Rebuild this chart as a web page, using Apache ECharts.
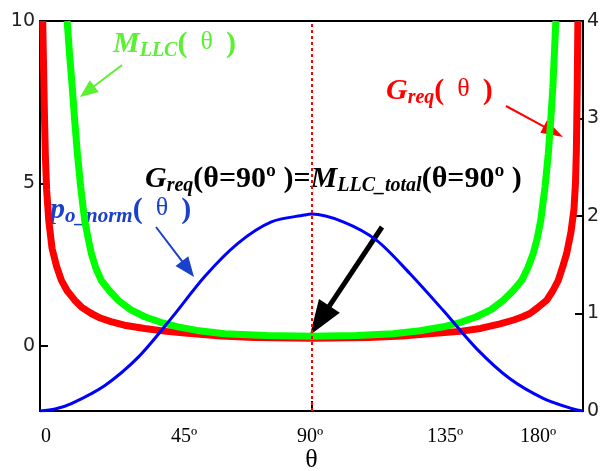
<!DOCTYPE html>
<html><head><meta charset="utf-8">
<script src="https://cdn.jsdelivr.net/npm/echarts@6/dist/echarts.min.js"></script>
<style>html,body{margin:0;padding:0;background:#fff}#c{width:606px;height:471px}</style>
</head><body><div id="c"></div>
<script>
// ---- data (theta in degrees) ----
const redTheta  = [0.9, 1.2, 1.5, 1.8, 2.2, 2.9, 4.0, 5.5, 7.1, 9, 11.5, 14, 17, 20, 23.5, 28, 34.7, 42, 49, 60, 71, 90, 109, 120, 131, 139.2, 146, 152.5, 157, 160, 162.4, 165, 168, 170, 171.8, 173.3, 174.6, 176, 177, 177.5, 177.8, 178.1, 178.3];
const redValue  = [10, 8.5, 7, 5.8, 4.8, 3.87, 3.0, 2.45, 2.02, 1.7, 1.41, 1.18, 1.0, 0.86, 0.75, 0.64, 0.54, 0.45, 0.39, 0.31, 0.26, 0.24, 0.26, 0.31, 0.39, 0.45, 0.54, 0.68, 0.8, 0.9, 1.0, 1.18, 1.41, 1.7, 2.02, 2.45, 2.85, 3.5, 4.2, 5.0, 6.0, 8.0, 10];
const greenTheta = [9.0, 9.8, 10.7, 11.5, 12.4, 13.5, 14.8, 16, 17.0, 18.5, 20.3, 23, 25.9, 30, 34.7, 40, 45.7, 52, 61.2, 75, 90, 105, 117, 126, 133.7, 139.5, 144.7, 149.5, 153.6, 156.8, 159.7, 161.7, 163.5, 164.8, 166, 167.4, 168.5, 169.3, 170, 170.5, 171];
const greenValue = [10, 8.98, 7.95, 6.94, 5.92, 4.89, 3.87, 3.3, 2.85, 2.4, 2.02, 1.7, 1.41, 1.12, 0.90, 0.73, 0.59, 0.48, 0.38, 0.32, 0.30, 0.32, 0.38, 0.47, 0.59, 0.73, 0.90, 1.12, 1.41, 1.7, 2.02, 2.4, 2.85, 3.3, 3.87, 4.89, 5.92, 6.94, 7.95, 8.98, 10];
const blueTheta = [0, 5, 10.4, 21.4, 32.5, 43.5, 54.6, 65.6, 76.7, 87.7, 90, 100.5, 111.6, 122.6, 133.7, 144.7, 155.8, 166.8, 176.8, 180];
const blueValue = [0, 0.02, 0.076, 0.26, 0.55, 0.95, 1.38, 1.72, 1.94, 2.01, 2.02, 1.94, 1.75, 1.41, 1.03, 0.64, 0.33, 0.13, 0.02, 0];
const markerTheta = 90;
const xTickLabels = ['0', '45º', '90º', '135º', '180º'];
const leftTicks = [0, 5, 10];

// ---- layout (pixels) ----
const xTickLabelPos = [46, 184, 310, 445, 538];
const zip = (a, b) => a.map((v, i) => [v, b[i]]);

const serif = '"Liberation Serif", "Times New Roman", serif';
function arrow(x1, y1, x2, y2, color, w, hl, hw) {
  const dx = x2 - x1, dy = y2 - y1, L = Math.hypot(dx, dy);
  const ux = dx / L, uy = dy / L, px = -uy, py = ux;
  const bx = x2 - ux * hl, by = y2 - uy * hl;
  return [
    { type: 'line', silent: true, shape: { x1, y1, x2: bx + ux * 2, y2: by + uy * 2 }, style: { stroke: color, lineWidth: w } },
    { type: 'polygon', silent: true, shape: { points: [[x2, y2], [bx + px * hw / 2, by + py * hw / 2], [bx - px * hw / 2, by - py * hw / 2]] }, style: { fill: color } }
  ];
}
function richStyle(color, big, small) {
  return {
    m: { fontFamily: serif, fontSize: big, fontWeight: 'bold', fontStyle: 'italic', fill: color, color: color, lineHeight: 34 },
    s: { fontFamily: serif, fontSize: small, fontWeight: 'bold', fontStyle: 'italic', fill: color, color: color, lineHeight: 34, verticalAlign: 'bottom' },
    p: { fontFamily: serif, fontSize: big, fontWeight: 'bold', fill: color, color: color, lineHeight: 34 },
    t: { fontFamily: serif, fontSize: 26, fill: color, color: color, lineHeight: 34, padding: [0, 0, 3, 0] }
  };
}

const graphics = [];
xTickLabels.forEach((t, i) => graphics.push({ type: 'text', silent: true, style: { x: xTickLabelPos[i], y: 437, text: t, fontFamily: serif, fontSize: 20, fill: '#000', align: 'center', verticalAlign: 'middle' } }));
graphics.push({ type: 'text', silent: true, style: { x: 113, y: 44, text: '{m|M}{s|LLC}{p|(}{t|  θ  }{p|)}', rich: richStyle('#5cf032', 30, 20), verticalAlign: 'middle' } });
graphics.push({ type: 'text', silent: true, style: { x: 386, y: 91, text: '{m|G}{s|req}{p|(}{t|  θ  }{p|)}', rich: richStyle('#ff0000', 30, 20), verticalAlign: 'middle' } });
graphics.push({ type: 'text', silent: true, style: { x: 50, y: 210, text: '{m|p}{s|o_norm}{p|(}{t|  θ  }{p|)}', rich: richStyle('#1a40cc', 30, 21), verticalAlign: 'middle' } });
const blk = richStyle('#000', 30, 20);
graphics.push({ type: 'text', silent: true, style: { x: 145, y: 179, text: '{m|G}{s|req}{p|(θ=90º )=}{m|M}{s|LLC_total}{p|(θ=90º )}', rich: blk, verticalAlign: 'middle' } });
graphics.push(...arrow(122, 65, 80, 97, '#5cf032', 2, 18, 15));
graphics.push(...arrow(506, 106, 563, 137, '#ff0000', 2, 22, 14));
graphics.push(...arrow(156, 227, 194, 277, '#1a40cc', 2, 20, 16));
graphics.push(...arrow(382, 227, 310, 335, '#000', 5, 35, 25));

const chart = echarts.init(document.getElementById('c'), null, { renderer: 'canvas' });
chart.setOption({
  animation: false,
  backgroundColor: '#fff',
  grid: { left: 40, right: 23, top: 21, bottom: 60, containLabel: false, outerBoundsMode: 'none', show: true, borderColor: '#000', borderWidth: 2, backgroundColor: 'transparent' },
  xAxis: {
    type: 'value', min: 0, max: 180, interval: 90,
    name: 'θ', nameLocation: 'middle', nameGap: 36,
    nameTextStyle: { fontFamily: serif, fontSize: 26, color: '#000' },
    axisLine: { show: true, onZero: false, lineStyle: { color: '#000', width: 2 } },
    axisTick: { show: true, inside: true, length: 10, customValues: [90], lineStyle: { color: '#000', width: 2 } },
    axisLabel: { show: false },
    splitLine: { show: false }
  },
  yAxis: [
    {
      type: 'value', min: -2, max: 10, position: 'left',
      axisLine: { show: true, onZero: false, lineStyle: { color: '#000', width: 2 } },
      axisTick: { show: true, inside: true, length: 8, customValues: leftTicks, lineStyle: { color: '#000', width: 2 } },
      axisLabel: { show: true, customValues: leftTicks, margin: 5, fontFamily: '"DejaVu Sans", sans-serif', fontSize: 19, color: '#222', padding: [12, 0, 0, 0] },
      splitLine: { show: false }
    },
    {
      type: 'value', min: 0, max: 4, interval: 1, position: 'right',
      axisLine: { show: true, onZero: false, lineStyle: { color: '#000', width: 2 } },
      axisTick: { show: true, inside: true, length: 8, lineStyle: { color: '#000', width: 2 } },
      axisLabel: { show: true, margin: 4, fontFamily: '"DejaVu Sans", sans-serif', fontSize: 19, color: '#222', padding: [10, 0, 0, 0] },
      splitLine: { show: false }
    }
  ],
  series: [
    { type: 'line', name: 'Greq', yAxisIndex: 0, data: zip(redTheta, redValue), showSymbol: false, smooth: false, clip: true, lineStyle: { color: '#ff0000', width: 7 }, z: 2 },
    { type: 'line', name: 'MLLC', yAxisIndex: 0, data: zip(greenTheta, greenValue), showSymbol: false, smooth: false, clip: true, lineStyle: { color: '#00ff00', width: 7 }, z: 3 },
    { type: 'line', name: 'po_norm', yAxisIndex: 1, data: zip(blueTheta, blueValue), showSymbol: false, smooth: 0.3, clip: true, lineStyle: { color: '#0000ff', width: 3 }, z: 4,
      markLine: { silent: true, symbol: ['none', 'none'], label: { show: false }, lineStyle: { color: '#ff0000', type: [3, 3], width: 2 }, data: [{ xAxis: markerTheta }] } }
  ],
  graphic: graphics
});
</script>
</body></html>
